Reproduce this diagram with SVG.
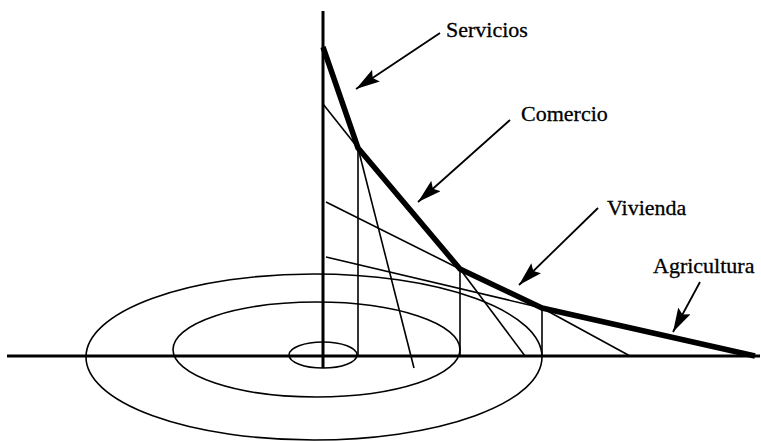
<svg xmlns="http://www.w3.org/2000/svg" width="761" height="441" viewBox="0 0 761 441">
<defs>
<marker id="ah" viewBox="0 0 24 14" refX="24" refY="7" markerWidth="24" markerHeight="14" markerUnits="userSpaceOnUse" orient="auto">
<path d="M0,0 L24,7 L0,14 L4,7 Z" fill="#000"/>
</marker>
</defs>
<style>
.axis{stroke:#000;stroke-width:3;fill:none}
.thin{stroke:#000;stroke-width:1.6;fill:none}
.thick{stroke:#000;stroke-width:5.5;fill:none;stroke-linejoin:round}
.arr{stroke:#000;stroke-width:1.8;fill:none;marker-end:url(#ah)}
.lbl{font-family:"Liberation Serif","Times New Roman",serif;font-size:22px;fill:#000;stroke:#000;stroke-width:0.3}
</style>
<rect width="761" height="441" fill="#fff"/>
<g id="rings">
<ellipse cx="314" cy="357" rx="228" ry="83" class="thin"/>
<ellipse cx="316.5" cy="349.5" rx="143.5" ry="47.5" class="thin"/>
<ellipse cx="323" cy="355" rx="34" ry="13" class="thin"/>
</g>
<g id="axes">
<line x1="7" y1="356" x2="760" y2="356" class="axis"/>
<line x1="323" y1="11" x2="323" y2="368" class="axis"/>
</g>
<g id="construction">
<line x1="358" y1="148" x2="358" y2="356" class="thin"/>
<line x1="460" y1="269" x2="460" y2="356" class="thin"/>
<line x1="542" y1="308" x2="542" y2="356" class="thin"/>
<line x1="323" y1="104" x2="358" y2="148" class="thin"/>
<line x1="358" y1="148" x2="414" y2="368" class="thin"/>
<line x1="326" y1="202" x2="460" y2="269" class="thin"/>
<line x1="460" y1="269" x2="525" y2="356" class="thin"/>
<line x1="326" y1="257" x2="542" y2="308" class="thin"/>
<line x1="542" y1="308" x2="630" y2="356" class="thin"/>
</g>
<g id="rent-curve">
<polyline points="323,47 358,148 460,269 542,308 755,356" class="thick"/>
</g>
<g id="connectors">
<line x1="440" y1="33" x2="356" y2="89" class="arr"/>
<line x1="510" y1="120" x2="418" y2="202" class="arr"/>
<line x1="598" y1="208" x2="519" y2="285" class="arr"/>
<line x1="700" y1="282" x2="673" y2="332" class="arr"/>
</g>
<g id="servicios"><text x="446" y="37" class="lbl">Servicios</text></g>
<g id="comercio"><text x="521" y="121" class="lbl">Comercio</text></g>
<g id="vivienda"><text x="607" y="215" class="lbl">Vivienda</text></g>
<g id="agricultura"><text x="653" y="273" class="lbl">Agricultura</text></g>
</svg>
